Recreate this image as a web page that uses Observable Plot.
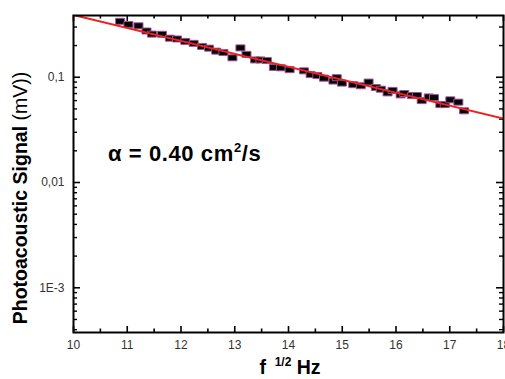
<!DOCTYPE html>
<html>
<head>
<meta charset="utf-8">
<script src="https://cdn.jsdelivr.net/npm/d3@7"></script>
<script src="https://cdn.jsdelivr.net/npm/@observablehq/plot@0.6"></script>
<style>
  html, body { margin: 0; padding: 0; background: #fff; }
  svg { display: block; }
</style>
</head>
<body>
<div id="chart"></div>
<script>
// ---- data ----
const sqrtF = [10.868, 11.022, 11.209, 11.358, 11.459, 11.646, 11.793, 11.925, 12.080, 12.235,
               12.392, 12.522, 12.655, 12.789, 12.957, 13.106, 13.218, 13.377, 13.479, 13.597,
               13.728, 13.858, 14.021, 14.287, 14.412, 14.537, 14.660, 14.836, 14.897, 14.994,
               15.205, 15.345, 15.490, 15.625, 15.718, 15.843, 15.936, 16.086, 16.153, 16.297,
               16.390, 16.478, 16.610, 16.707, 16.825, 16.907, 17.011, 17.160, 17.267];
const signal = [0.340, 0.317, 0.308, 0.275, 0.257, 0.256, 0.235, 0.231, 0.219, 0.210,
                0.196, 0.189, 0.177, 0.172, 0.153, 0.190, 0.165, 0.146, 0.146, 0.144,
                0.124, 0.123, 0.118, 0.115, 0.106, 0.104, 0.098, 0.092, 0.099, 0.088,
                0.085, 0.083, 0.090, 0.080, 0.077, 0.071, 0.075, 0.068, 0.070, 0.067,
                0.067, 0.060, 0.065, 0.064, 0.055, 0.055, 0.061, 0.058, 0.048];
const fitX = [10, 18];
const fitY = [0.39, 0.0405];

const xMajor = [10, 11, 12, 13, 14, 15, 16, 17, 18];
const xMinor = [10.5, 11.5, 12.5, 13.5, 14.5, 15.5, 16.5, 17.5];
const yMajor = [0.001, 0.01, 0.1];
const yMajorLabels = ["1E-3", "0,01", "0,1"];
const yMinor = [0.0004, 0.0005, 0.0006, 0.0007, 0.0008, 0.0009,
                0.002, 0.003, 0.004, 0.005, 0.006, 0.007, 0.008, 0.009,
                0.02, 0.03, 0.04, 0.05, 0.06, 0.07, 0.08, 0.09, 0.2, 0.3];
const xDomain = [10, 18];
const yDomain = [0.000376, 0.386];

const points = sqrtF.map((x, i) => ({x, y: signal[i]}));
const fit = fitX.map((x, i) => ({x, y: fitY[i]}));

// ---- layout ----
const W = 505, H = 379;
const mL = 73, mR = 2, mT = 15, mB = 47;
const innerW = W - mL - mR, innerH = H - mT - mB;

const rectSymbol = {
  draw(ctx) { ctx.rect(-4.5, -3, 9, 6); }
};

const labelMap = new Map(yMajor.map((v, i) => [v, yMajorLabels[i]]));

const svg = Plot.plot({
  width: W, height: H,
  marginLeft: mL, marginRight: mR, marginTop: mT, marginBottom: mB,
  style: {fontFamily: "'Liberation Sans', Arial, sans-serif", fontSize: "12px", color: "#222", background: "#fff"},
  x: {domain: xDomain},
  y: {type: "log", domain: yDomain},
  marks: [
    // tick labels
    Plot.axisX({ticks: xMajor, tickSize: 0, tickPadding: 8, tickFormat: d => String(d), label: null, fill: "#333", fontSize: 12}),
    Plot.axisY({ticks: yMajor, tickSize: 0, tickPadding: 9, tickFormat: d => labelMap.get(d), label: null, fill: "#333", fontSize: 12}),
    // inward ticks, bottom and top
    Plot.tickX(xMajor, {x: d => d, insetTop: innerH - 6, stroke: "#000", strokeWidth: 1.6}),
    Plot.tickX(xMinor, {x: d => d, insetTop: innerH - 3.5, stroke: "#000", strokeWidth: 1.6}),
    Plot.tickX(xMajor, {x: d => d, insetBottom: innerH - 6, stroke: "#000", strokeWidth: 1.6}),
    Plot.tickX(xMinor, {x: d => d, insetBottom: innerH - 3.5, stroke: "#000", strokeWidth: 1.6}),
    // inward ticks, left and right
    Plot.tickY(yMajor, {y: d => d, insetRight: innerW - 7, stroke: "#000", strokeWidth: 1.6}),
    Plot.tickY(yMinor, {y: d => d, insetRight: innerW - 4, stroke: "#000", strokeWidth: 1.4}),
    Plot.tickY(yMajor, {y: d => d, insetLeft: innerW - 7, stroke: "#000", strokeWidth: 1.6}),
    Plot.tickY(yMinor, {y: d => d, insetLeft: innerW - 4, stroke: "#000", strokeWidth: 1.4}),
    // data
    Plot.dot(points, {x: "x", y: "y", symbol: rectSymbol, r: 4, fill: "#000", stroke: "#a0509a", strokeWidth: 1}),
    Plot.line(fit, {x: "x", y: "y", stroke: "#ee2020", strokeWidth: 2, clip: true}),
    Plot.frame({stroke: "#000", strokeWidth: 2})
  ]
});

const sel = d3.select(svg);
const sx = svg.scale("x"), sy = svg.scale("y");

// y title
const yt = sel.append("text")
  .attr("transform", `translate(27,198) rotate(-90)`)
  .attr("text-anchor", "middle")
  .attr("font-size", 19.5)
  .attr("fill", "#000")
  .style("white-space", "pre");
yt.append("tspan").attr("font-weight", "bold").text("Photoacoustic Signal");
yt.append("tspan").text(" (mV))");

// x title
const xt = sel.append("text")
  .attr("x", 290)
  .attr("y", 374)
  .attr("text-anchor", "middle")
  .attr("font-size", 19.5)
  .attr("font-weight", "bold")
  .attr("fill", "#000")
  .style("white-space", "pre");
xt.append("tspan").text("f ");
xt.append("tspan").attr("font-size", 12).attr("dy", -8).text(" 1/2 ");
xt.append("tspan").attr("dy", 8).attr("dx", 2).text("Hz");

// annotation
const at = sel.append("text")
  .attr("x", sx.apply(10.65))
  .attr("y", sy.apply(0.0158))
  .attr("text-anchor", "start")
  .attr("font-size", 22)
  .attr("font-weight", "bold")
  .attr("letter-spacing", 0.6)
  .attr("fill", "#000")
  .style("white-space", "pre");
at.append("tspan").text("\u03b1 = 0.40 cm");
at.append("tspan").attr("font-size", 13).attr("dy", -9).text("2");
at.append("tspan").attr("dy", 9).text("/s");

document.getElementById("chart").appendChild(svg);
</script>
</body>
</html>
